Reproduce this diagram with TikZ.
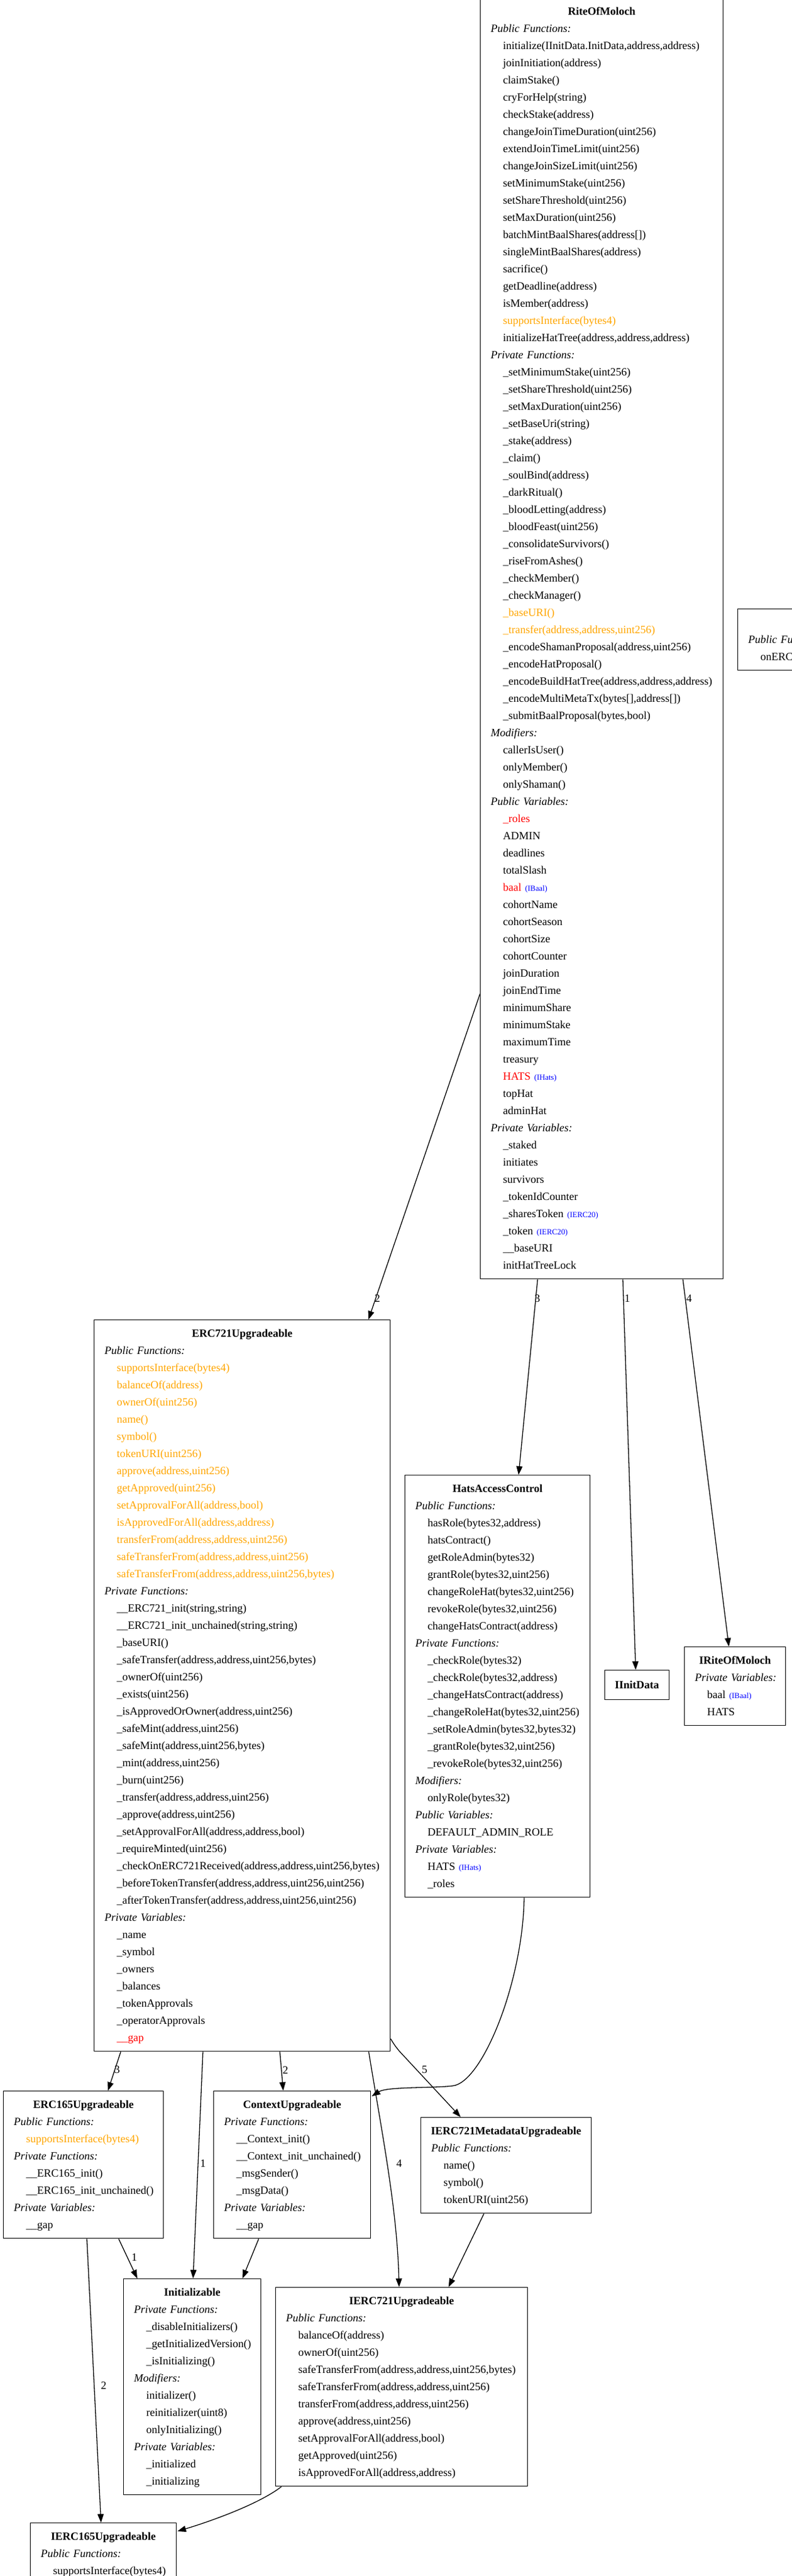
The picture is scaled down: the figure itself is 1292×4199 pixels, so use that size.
\documentclass[tikz,border=0pt]{standalone}
\usepackage{fontspec}
\setmainfont{Liberation Serif}
\usetikzlibrary{arrows.meta,calc}
\definecolor{gvorange}{HTML}{FFA500}
\definecolor{gvred}{HTML}{FF0000}
\definecolor{gvblue}{HTML}{0000FF}
\newcommand\gvS{\vrule height 20pt depth 8pt width 0pt}
\newcommand\gvT[1]{\gvS\makebox[\linewidth][c]{\textbf{#1}}}
\newcommand\gvH[1]{\gvS\mbox{\textit{#1}}}
\newcommand\gvI[1]{\gvS\hspace*{20pt}\mbox{#1}}
\newcommand\gvO[1]{\textcolor{gvorange}{#1}}
\newcommand\gvR[1]{\textcolor{gvred}{#1}}
\newcommand\gvY[1]{\ {\fontsize{12.8}{14}\selectfont\textcolor{gvblue}{(#1)}}}
\tikzset{
  cls/.style={draw=black, line width=1.4pt, rectangle, anchor=north west,
    inner xsep=17pt, inner ysep=8pt, align=left, font=\fontsize{18}{28}\selectfont},
  edge/.style={draw=black, line width=1.3pt, -{Triangle[length=14pt,width=10pt]}},
  elabel/.style={font=\fontsize{18}{20}\selectfont, inner sep=0pt}
}
\begin{document}
\begin{tikzpicture}[x=1pt,y=-1pt]
\useasboundingbox (0,0) rectangle (1292,4199);

% RiteOfMoloch
\node[cls, text width=362pt] (rom) at (783,-4) {%
\gvT{RiteOfMoloch}\\
\gvH{Public Functions:}\\
\gvI{initialize(IInitData.InitData,address,address)}\\
\gvI{joinInitiation(address)}\\
\gvI{claimStake()}\\
\gvI{cryForHelp(string)}\\
\gvI{checkStake(address)}\\
\gvI{changeJoinTimeDuration(uint256)}\\
\gvI{extendJoinTimeLimit(uint256)}\\
\gvI{changeJoinSizeLimit(uint256)}\\
\gvI{setMinimumStake(uint256)}\\
\gvI{setShareThreshold(uint256)}\\
\gvI{setMaxDuration(uint256)}\\
\gvI{batchMintBaalShares(address[])}\\
\gvI{singleMintBaalShares(address)}\\
\gvI{sacrifice()}\\
\gvI{getDeadline(address)}\\
\gvI{isMember(address)}\\
\gvI{\gvO{supportsInterface(bytes4)}}\\
\gvI{initializeHatTree(address,address,address)}\\
\gvH{Private Functions:}\\
\gvI{\_setMinimumStake(uint256)}\\
\gvI{\_setShareThreshold(uint256)}\\
\gvI{\_setMaxDuration(uint256)}\\
\gvI{\_setBaseUri(string)}\\
\gvI{\_stake(address)}\\
\gvI{\_claim()}\\
\gvI{\_soulBind(address)}\\
\gvI{\_darkRitual()}\\
\gvI{\_bloodLetting(address)}\\
\gvI{\_bloodFeast(uint256)}\\
\gvI{\_consolidateSurvivors()}\\
\gvI{\_riseFromAshes()}\\
\gvI{\_checkMember()}\\
\gvI{\_checkManager()}\\
\gvI{\gvO{\_baseURI()}}\\
\gvI{\gvO{\_transfer(address,address,uint256)}}\\
\gvI{\_encodeShamanProposal(address,uint256)}\\
\gvI{\_encodeHatProposal()}\\
\gvI{\_encodeBuildHatTree(address,address,address)}\\
\gvI{\_encodeMultiMetaTx(bytes[],address[])}\\
\gvI{\_submitBaalProposal(bytes,bool)}\\
\gvH{Modifiers:}\\
\gvI{callerIsUser()}\\
\gvI{onlyMember()}\\
\gvI{onlyShaman()}\\
\gvH{Public Variables:}\\
\gvI{\gvR{\_roles}}\\
\gvI{ADMIN}\\
\gvI{deadlines}\\
\gvI{totalSlash}\\
\gvI{\gvR{baal}\gvY{IBaal}}\\
\gvI{cohortName}\\
\gvI{cohortSeason}\\
\gvI{cohortSize}\\
\gvI{cohortCounter}\\
\gvI{joinDuration}\\
\gvI{joinEndTime}\\
\gvI{minimumShare}\\
\gvI{minimumStake}\\
\gvI{maximumTime}\\
\gvI{treasury}\\
\gvI{\gvR{HATS}\gvY{IHats}}\\
\gvI{topHat}\\
\gvI{adminHat}\\
\gvH{Private Variables:}\\
\gvI{\_staked}\\
\gvI{initiates}\\
\gvI{survivors}\\
\gvI{\_tokenIdCounter}\\
\gvI{\_sharesToken\gvY{IERC20}}\\
\gvI{\_token\gvY{IERC20}}\\
\gvI{\_\_baseURI}\\
\gvI{initHatTreeLock}};

% cut-off receiver interface at the right edge
\node[cls, text width=447pt] (recv) at (1203,992) {%
\gvS\\
\gvH{Public Functions:}\\
\gvI{onERC721Received(address,address,uint256,bytes)}};

% ERC721Upgradeable
\node[cls, text width=449pt] (erc) at (153,2151) {%
\gvT{ERC721Upgradeable}\\
\gvH{Public Functions:}\\
\gvI{\gvO{supportsInterface(bytes4)}}\\
\gvI{\gvO{balanceOf(address)}}\\
\gvI{\gvO{ownerOf(uint256)}}\\
\gvI{\gvO{name()}}\\
\gvI{\gvO{symbol()}}\\
\gvI{\gvO{tokenURI(uint256)}}\\
\gvI{\gvO{approve(address,uint256)}}\\
\gvI{\gvO{getApproved(uint256)}}\\
\gvI{\gvO{setApprovalForAll(address,bool)}}\\
\gvI{\gvO{isApprovedForAll(address,address)}}\\
\gvI{\gvO{transferFrom(address,address,uint256)}}\\
\gvI{\gvO{safeTransferFrom(address,address,uint256)}}\\
\gvI{\gvO{safeTransferFrom(address,address,uint256,bytes)}}\\
\gvH{Private Functions:}\\
\gvI{\_\_ERC721\_init(string,string)}\\
\gvI{\_\_ERC721\_init\_unchained(string,string)}\\
\gvI{\_baseURI()}\\
\gvI{\_safeTransfer(address,address,uint256,bytes)}\\
\gvI{\_ownerOf(uint256)}\\
\gvI{\_exists(uint256)}\\
\gvI{\_isApprovedOrOwner(address,uint256)}\\
\gvI{\_safeMint(address,uint256)}\\
\gvI{\_safeMint(address,uint256,bytes)}\\
\gvI{\_mint(address,uint256)}\\
\gvI{\_burn(uint256)}\\
\gvI{\_transfer(address,address,uint256)}\\
\gvI{\_approve(address,uint256)}\\
\gvI{\_setApprovalForAll(address,address,bool)}\\
\gvI{\_requireMinted(uint256)}\\
\gvI{\_checkOnERC721Received(address,address,uint256,bytes)}\\
\gvI{\_beforeTokenTransfer(address,address,uint256,uint256)}\\
\gvI{\_afterTokenTransfer(address,address,uint256,uint256)}\\
\gvH{Private Variables:}\\
\gvI{\_name}\\
\gvI{\_symbol}\\
\gvI{\_owners}\\
\gvI{\_balances}\\
\gvI{\_tokenApprovals}\\
\gvI{\_operatorApprovals}\\
\gvI{\gvR{\_\_gap}}};

% HatsAccessControl
\node[cls, text width=268pt] (hats) at (660,2404) {%
\gvT{HatsAccessControl}\\
\gvH{Public Functions:}\\
\gvI{hasRole(bytes32,address)}\\
\gvI{hatsContract()}\\
\gvI{getRoleAdmin(bytes32)}\\
\gvI{grantRole(bytes32,uint256)}\\
\gvI{changeRoleHat(bytes32,uint256)}\\
\gvI{revokeRole(bytes32,uint256)}\\
\gvI{changeHatsContract(address)}\\
\gvH{Private Functions:}\\
\gvI{\_checkRole(bytes32)}\\
\gvI{\_checkRole(bytes32,address)}\\
\gvI{\_changeHatsContract(address)}\\
\gvI{\_changeRoleHat(bytes32,uint256)}\\
\gvI{\_setRoleAdmin(bytes32,bytes32)}\\
\gvI{\_grantRole(bytes32,uint256)}\\
\gvI{\_revokeRole(bytes32,uint256)}\\
\gvH{Modifiers:}\\
\gvI{onlyRole(bytes32)}\\
\gvH{Public Variables:}\\
\gvI{DEFAULT\_ADMIN\_ROLE}\\
\gvH{Private Variables:}\\
\gvI{HATS\gvY{IHats}}\\
\gvI{\_roles}};

% IInitData
\node[cls, text width=71pt, inner ysep=10pt] (iinit) at (986,2722) {%
\gvT{IInitData}};

% IRiteOfMoloch
\node[cls, text width=131pt] (irom) at (1116,2684) {%
\gvT{IRiteOfMoloch}\\
\gvH{Private Variables:}\\
\gvI{baal\gvY{IBaal}}\\
\gvI{HATS}};

% ERC165Upgradeable
\node[cls, text width=227pt] (e165) at (5,3408) {%
\gvT{ERC165Upgradeable}\\
\gvH{Public Functions:}\\
\gvI{\gvO{supportsInterface(bytes4)}}\\
\gvH{Private Functions:}\\
\gvI{\_\_ERC165\_init()}\\
\gvI{\_\_ERC165\_init\_unchained()}\\
\gvH{Private Variables:}\\
\gvI{\_\_gap}};

% ContextUpgradeable
\node[cls, text width=222pt] (ctx) at (348,3408) {%
\gvT{ContextUpgradeable}\\
\gvH{Private Functions:}\\
\gvI{\_\_Context\_init()}\\
\gvI{\_\_Context\_init\_unchained()}\\
\gvI{\_msgSender()}\\
\gvI{\_msgData()}\\
\gvH{Private Variables:}\\
\gvI{\_\_gap}};

% IERC721MetadataUpgradeable
\node[cls, text width=244pt] (imeta) at (686,3451) {%
\gvT{IERC721MetadataUpgradeable}\\
\gvH{Public Functions:}\\
\gvI{name()}\\
\gvI{symbol()}\\
\gvI{tokenURI(uint256)}};

% Initializable
\node[cls, text width=190pt] (init) at (201,3714) {%
\gvT{Initializable}\\
\gvH{Private Functions:}\\
\gvI{\_disableInitializers()}\\
\gvI{\_getInitializedVersion()}\\
\gvI{\_isInitializing()}\\
\gvH{Modifiers:}\\
\gvI{initializer()}\\
\gvI{reinitializer(uint8)}\\
\gvI{onlyInitializing()}\\
\gvH{Private Variables:}\\
\gvI{\_initialized}\\
\gvI{\_initializing}};

% IERC721Upgradeable
\node[cls, text width=377pt] (ierc) at (449,3728) {%
\gvT{IERC721Upgradeable}\\
\gvH{Public Functions:}\\
\gvI{balanceOf(address)}\\
\gvI{ownerOf(uint256)}\\
\gvI{safeTransferFrom(address,address,uint256,bytes)}\\
\gvI{safeTransferFrom(address,address,uint256)}\\
\gvI{transferFrom(address,address,uint256)}\\
\gvI{approve(address,uint256)}\\
\gvI{setApprovalForAll(address,bool)}\\
\gvI{getApproved(uint256)}\\
\gvI{isApprovedForAll(address,address)}};

% IERC165Upgradeable
\node[cls, text width=204pt] (ie165) at (49,4112) {%
\gvT{IERC165Upgradeable}\\
\gvH{Public Functions:}\\
\gvI{supportsInterface(bytes4)}};

% ---------- connectors ----------
\draw[edge] ($(rom.north west)+(0,1624)$) -- ($(erc.north west)+(448,0)$);
\draw[edge] ($(rom.south west)+(94,0)$) -- ($(hats.north west)+(186,0)$);
\draw[edge] ($(rom.south west)+(233,0)$) -- ($(iinit.north west)+(51,0)$);
\draw[edge] ($(rom.south west)+(331,0)$) -- ($(irom.north west)+(73,0)$);

\draw[edge] ($(erc.south west)+(44,0)$) -- ($(e165.north west)+(171,0)$);
\draw[edge] ($(erc.south west)+(178,0)$) -- ($(init.north west)+(114,0)$);
\draw[edge] ($(erc.south west)+(303.5,0)$) -- ($(ctx.north west)+(114,0)$);
\draw[edge] ($(erc.south west)+(448.5,0)$) .. controls ($(erc.south west)+(469,127)$) and ($(ierc.north west)+(199,-128)$) .. ($(ierc.north west)+(202,0)$);
\draw[edge] ($(erc.south east)+(0,-21)$) .. controls ($(erc.south east)+(6,-11)$) .. ($(erc.south east)+(14,-1)$) -- ($(imeta.north west)+(65.5,0)$);

\draw[edge] ($(hats.south west)+(195,0)$) .. controls ($(hats.south west)+(193,138)$) and ($(ctx.north east)+(181,-13)$) .. ($(ctx.north east)+(133,-8)$)
  .. controls ($(ctx.north east)+(101,-4)$) and ($(ctx.north east)+(26,-7)$) .. ($(ctx.north east)+(1,9)$);

\draw[edge] ($(e165.south west)+(188.6,0)$) -- ($(init.north west)+(23,0)$);
\draw[edge] ($(e165.south west)+(136.7,0)$) -- ($(ie165.north west)+(115.8,0)$);
\draw[edge] ($(ctx.south west)+(74,0)$) -- ($(init.north west)+(194.5,0)$);
\draw[edge] ($(imeta.south west)+(103.4,0)$) -- ($(ierc.north west)+(282.7,0)$);
\draw[edge] ($(ierc.south west)+(10,0)$) .. controls ($(ierc.south west)+(-29,30)$) and ($(ie165.north east)+(48,0)$) .. ($(ie165.north east)+(1,14)$);

% ---------- connector labels ----------
\node[elabel] (l1) at (615.5,2117) {2};
\node[elabel] (l2) at (876.7,2117) {3};
\node[elabel] (l3) at (1023.4,2117) {1};
\node[elabel] (l4) at (1124,2117) {4};
\node[elabel] (l5) at (191,3374) {3};
\node[elabel] (l6) at (331.2,3527) {1};
\node[elabel] (l7) at (465.5,3374) {2};
\node[elabel] (l8) at (651,3527) {4};
\node[elabel] (l9) at (692.7,3374) {5};
\node[elabel] (l10) at (219,3680) {1};
\node[elabel] (l11) at (169,3888) {2};
\end{tikzpicture}
\end{document}
